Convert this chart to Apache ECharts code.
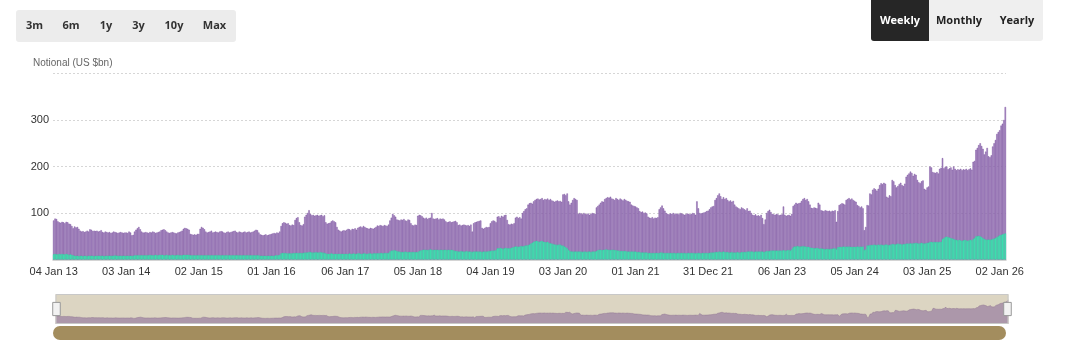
<!DOCTYPE html>
<html><head><meta charset="utf-8">
<script src="https://cdn.jsdelivr.net/npm/echarts@6/dist/echarts.min.js"></script>
<style>html,body{margin:0;padding:0;background:#fff}#c{width:1080px;height:358px}</style>
</head><body><div id="c"></div>
<script>
// Weekly notional, US $bn — first week 04 Jan 2013
const firstWeekUTC = Date.UTC(2013, 0, 4);
const monthNames = ['Jan','Feb','Mar','Apr','May','Jun','Jul','Aug','Sep','Oct','Nov','Dec'];
const tickLabels = ['04 Jan 13','03 Jan 14','02 Jan 15','01 Jan 16','06 Jan 17','05 Jan 18','04 Jan 19','03 Jan 20','01 Jan 21','31 Dec 21','06 Jan 23','05 Jan 24','03 Jan 25','02 Jan 26'];
const yTicks = [0, 100, 200, 300, 400];
const rangeButtons = ['3m','6m','1y','3y','10y','Max'];
const periodButtons = ['Weekly','Monthly','Yearly'];

// total weekly notional (purple bar height)
const totalVolume = [
 // 2013
 84,88,87,82,80,79,81,80,78,81,80,77,76,
 72,67,71,69,70,66,62,60,61,59,60,62,60,
 65,64,61,62,61,62,60,61,63,59,58,60,59,
 58,59,57,58,60,59,58,57,58,59,58,57,58,
 // 2014
 58,57,60,58,52,53,60,64,67,70,65,60,58,
 58,59,58,57,59,58,60,59,57,58,59,60,63,
 64,65,63,60,58,57,58,59,58,57,56,58,59,
 60,62,66,68,67,66,64,55,54,53,54,53,55,
 // 2015
 55,66,70,68,65,60,58,59,60,62,58,59,60,
 59,58,60,61,60,58,57,59,60,58,59,60,61,
 62,59,58,60,59,58,59,60,58,59,60,58,59,
 60,62,64,63,58,54,53,52,53,54,52,53,54,
 // 2016
 55,56,57,56,58,57,60,72,78,80,79,77,78,
 74,73,75,74,85,89,91,80,74,73,76,92,96,
 100,106,98,95,96,94,95,96,94,95,96,93,95,
 80,77,78,79,82,84,82,80,70,64,62,60,62,63,
 // 2017
 62,64,66,65,63,66,65,67,64,68,70,71,69,
 72,70,68,67,66,68,67,66,68,70,73,72,74,
 73,72,74,73,72,75,84,90,98,95,92,86,85,
 84,86,85,87,84,83,86,85,78,74,73,75,74,
 // 2018
 94,96,95,93,90,88,90,87,89,90,100,88,87,
 88,89,86,88,87,88,86,82,80,81,82,80,81,
 82,83,80,74,75,73,74,75,74,73,74,72,75,
 60,78,80,81,82,83,84,68,66,68,70,69,70,
 // 2019
 78,82,84,83,80,92,93,90,94,92,95,96,85,
 76,75,77,76,78,90,92,89,91,88,100,104,108,
 110,118,121,122,120,125,128,130,131,129,130,132,128,
 130,129,131,128,130,127,126,124,126,127,125,126,124,
 // 2020
 140,141,138,142,125,118,122,128,132,130,128,98,100,
 99,97,100,98,97,99,96,98,100,99,98,112,115,
 118,122,125,124,130,132,134,133,135,131,130,128,132,
 130,128,131,129,127,130,128,126,125,124,118,116,115,
 // 2021
 114,112,110,104,102,103,100,101,99,92,90,89,91,
 88,90,89,91,108,112,116,110,105,100,98,97,99,
 98,100,97,99,98,97,100,99,98,96,97,99,98,
 97,98,100,99,96,125,110,100,99,100,101,102,104,
 // 2022
 105,108,112,114,115,128,132,138,142,136,130,134,130,
 132,128,125,127,124,126,118,114,112,110,108,112,110,
 108,106,110,104,105,100,96,95,97,94,95,93,96,
 89,76,86,100,104,107,102,98,97,96,98,97,95,96,
 // 2023
 97,114,96,94,95,96,94,98,115,118,122,120,121,
 122,126,130,132,128,130,125,118,111,110,112,111,110,
 122,118,106,105,104,106,105,104,105,103,105,104,106,
 81,104,117,119,121,120,118,128,130,132,129,131,128,
 // 2024
 126,124,117,115,112,114,110,63,70,117,116,142,140,
 150,153,151,148,152,160,164,162,165,163,135,133,138,
 136,171,168,160,155,158,162,165,160,158,163,178,182,
 185,189,186,180,184,182,171,166,164,168,170,152,150,
 // 2025
 155,157,200,198,188,187,186,188,185,195,197,218,196,
 199,200,194,196,198,193,200,195,192,194,193,195,192,
 194,193,195,192,194,196,193,210,212,236,240,246,250,
 244,238,226,232,240,222,220,224,243,250,257,270,274,
 // 2026
 278,288,292,300,328
];

// teal segment (drawn over the base of each bar)
const tealVolume = [
 // 2013
 11,12,11,11,12,11,12,11,11,12,11,10,11,
 10,9,8,8,8,7,8,8,7,8,8,7,8,
 8,8,8,7,8,8,8,8,8,8,7,8,8,
 8,8,8,8,8,9,8,8,8,8,8,8,8,
 // 2014
 8,8,8,8,8,8,9,9,9,9,9,9,9,
 9,9,9,9,10,9,9,9,10,9,9,10,10,
 10,9,9,10,9,9,9,10,9,9,9,10,9,
 9,9,10,10,10,10,10,9,9,9,9,9,9,
 // 2015
 9,9,9,9,9,9,9,9,9,9,9,9,9,
 9,9,9,9,9,9,9,9,9,9,9,9,9,
 9,9,9,9,9,9,9,9,9,9,9,9,9,
 9,9,9,9,9,8,8,8,8,8,8,8,8,
 // 2016
 8,8,8,9,9,9,10,13,14,14,14,13,13,
 13,13,13,14,14,14,14,14,14,14,14,15,15,
 15,16,16,15,15,15,16,15,15,16,15,15,14,
 13,12,12,12,13,12,12,12,12,12,12,12,12,12,
 // 2017
 12,12,12,13,12,12,13,12,12,13,13,12,12,
 13,13,12,12,13,13,12,13,13,13,13,13,14,
 14,13,14,14,14,14,17,19,19,20,19,18,17,
 17,16,16,16,17,16,16,16,16,16,16,16,16,
 // 2018
 16,18,19,20,21,21,21,20,21,22,21,20,21,
 21,21,20,21,21,20,21,21,20,21,20,21,20,
 19,18,18,17,17,18,17,17,17,18,17,17,17,
 16,17,17,17,17,17,17,16,17,17,17,17,18,
 // 2019
 18,19,19,19,20,24,24,25,24,23,24,25,24,
 24,24,25,26,27,28,28,27,28,29,28,29,30,
 30,31,32,34,36,38,39,40,39,38,39,40,38,
 38,37,38,36,35,34,33,32,32,31,32,32,30,
 // 2020
 30,28,26,24,20,18,17,17,17,17,17,17,17,
 17,16,17,17,16,17,17,16,17,17,17,18,20,
 21,21,20,21,21,22,21,21,20,21,21,20,20,
 19,19,18,18,18,18,18,17,17,17,17,17,17,
 // 2021
 17,16,16,16,15,15,15,15,15,14,14,14,14,
 14,14,14,14,14,15,15,14,14,14,14,14,14,
 14,14,14,13,14,14,14,14,14,14,13,14,14,
 14,14,14,14,13,14,14,14,13,14,14,14,14,
 // 2022
 14,14,15,15,15,16,16,16,17,16,16,17,16,
 16,16,15,15,16,15,15,15,16,15,15,16,16,
 16,16,17,17,17,17,17,16,17,17,17,17,17,
 17,16,17,18,18,18,19,19,19,19,19,19,19,19,
 // 2023
 19,20,19,19,20,20,19,22,26,28,28,29,28,
 28,28,29,28,28,27,27,26,25,25,24,24,25,
 24,23,24,23,23,22,23,23,22,23,23,24,24,
 22,26,27,27,27,28,27,28,27,28,27,27,27,
 // 2024
 27,27,28,27,28,27,28,20,22,30,30,31,31,
 31,32,31,31,32,31,32,31,31,32,32,31,31,
 32,33,33,32,33,34,33,33,32,33,33,34,34,
 34,35,34,35,35,36,35,34,35,36,35,34,35,
 // 2025
 36,36,38,38,37,38,37,38,37,38,38,44,46,
 48,49,48,47,46,45,44,43,42,41,42,41,40,
 41,42,41,40,41,42,41,44,46,50,50,51,50,
 48,46,44,43,42,43,42,43,44,45,46,48,50,
 // 2026
 52,53,54,55,56
];

const pad2 = n => (n < 10 ? '0' : '') + n;
const weekLabels = totalVolume.map((_, i) => {
  const d = new Date(firstWeekUTC + i * 7 * 86400000);
  return pad2(d.getUTCDate()) + ' ' + monthNames[d.getUTCMonth()] + ' ' + String(d.getUTCFullYear()).slice(2);
});
const showTick = (idx, val) => tickLabels.indexOf(val) >= 0;

const FONT = 'Liberation Sans, Arial, sans-serif';
const BTN_FONT = 'Open Sans, sans-serif';

const graphics = [
  { type: 'rect', left: 16, top: 10, shape: { width: 220, height: 32, r: 3 }, style: { fill: '#ececec' }, z: 10 },
  { type: 'rect', left: 871, top: 0, shape: { width: 172, height: 41, r: [0,0,3,3] }, style: { fill: '#efefef' }, z: 10 },
  { type: 'rect', left: 871, top: 0, shape: { width: 58, height: 41, r: [0,0,0,3] }, style: { fill: '#262626' }, z: 11 },
  { type: 'text', left: 33, top: 58, style: { text: 'Notional (US $bn)', fill: '#666', font: '10px ' + FONT }, z: 12 },
  // navigator scrollbar track
  { type: 'rect', left: 53, top: 326, shape: { width: 953, height: 14, r: 7 }, style: { fill: '#a38d5e' }, z: 10 }
];
const rangeX = [34.5, 71, 106, 138.5, 174, 214.5];
rangeButtons.forEach((t, i) => graphics.push({ type: 'text', x: rangeX[i], y: 26, style: { text: t, fill: '#333', font: 'bold 11px ' + BTN_FONT, align: 'center', verticalAlign: 'middle' }, z: 12 }));
const periodX = [900, 959, 1017];
periodButtons.forEach((t, i) => graphics.push({ type: 'text', x: periodX[i], y: 21, style: { text: t, fill: i === 0 ? '#fff' : '#222', font: 'bold 11px ' + BTN_FONT, align: 'center', verticalAlign: 'middle' }, z: 12 }));

const chart = echarts.init(document.getElementById('c'), null, { renderer: 'canvas' });
chart.setOption({
  animation: false,
  backgroundColor: '#fff',
  textStyle: { fontFamily: FONT },
  grid: { left: 53, right: 74, top: 73.5, bottom: 98.5, containLabel: false },
  graphic: graphics,
  xAxis: {
    type: 'category',
    data: weekLabels,
    boundaryGap: true,
    axisLine: { lineStyle: { color: '#c6c6c6', width: 1.5 } },
    axisTick: { interval: showTick, length: 6, lineStyle: { color: '#bbb' } },
    axisLabel: { interval: showTick, color: '#333', fontSize: 11, margin: 7, fontFamily: FONT, hideOverlap: false }
  },
  yAxis: {
    type: 'value',
    min: yTicks[0], max: yTicks[yTicks.length - 1], interval: 100,
    axisLine: { show: false }, axisTick: { show: false },
    axisLabel: { color: '#333', fontSize: 11, margin: 4, fontFamily: FONT, showMinLabel: false, showMaxLabel: false },
    splitLine: { show: true, lineStyle: { color: '#d6d6d6', type: [2, 2], width: 1 } }
  },
  dataZoom: [
    {
      type: 'slider', xAxisIndex: 0, start: 0, end: 100,
      left: 53, right: 74, top: 294, height: 30,
      backgroundColor: '#dcd5c2', fillerColor: 'rgba(220,213,194,0.2)',
      borderColor: '#c8c8c8', borderRadius: 0,
      showDetail: false, brushSelect: false, moveHandleSize: 0,
      handleIcon: 'path://M0,0 L8,0 L8,14 L0,14 Z',
      handleSize: '44%',
      handleStyle: { color: '#f2f2f2', borderColor: '#999', borderWidth: 1 },
      dataBackground: { lineStyle: { color: '#7c5b86', width: 0.5, opacity: 0.9 }, areaStyle: { color: '#977a9f', opacity: 0.85 } },
      selectedDataBackground: { lineStyle: { color: '#7c5b86', width: 0.5, opacity: 0.9 }, areaStyle: { color: '#977a9f', opacity: 0.85 } },
      emphasis: { handleStyle: { color: '#f2f2f2', borderColor: '#999' } }
    }
  ],
  series: [
    {
      name: 'Total', type: 'bar', data: totalVolume, barGap: '-100%', barCategoryGap: '0%',
      itemStyle: { color: '#ad92c6', borderColor: '#74489a', borderWidth: 0.45 },
      emphasis: { disabled: true }, z: 2
    },
    {
      name: 'Teal', type: 'bar', data: tealVolume, barGap: '-100%', barCategoryGap: '0%',
      itemStyle: { color: '#44e6b5', borderColor: '#2ccf9d', borderWidth: 0.3 },
      emphasis: { disabled: true }, z: 3
    }
  ]
});
</script>
</body></html>
